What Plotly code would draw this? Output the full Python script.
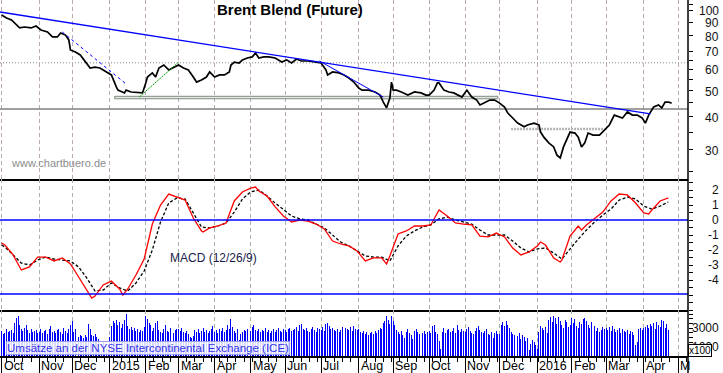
import math
import pandas as pd
import plotly.graph_objects as go

FONT = "Liberation Sans, Arial, sans-serif"

# ---------------- axis categories ----------------
month_starts = ["2014-10-01", "2014-11-03", "2014-12-01", "2015-01-01", "2015-02-02", "2015-03-02",
                "2015-04-01", "2015-05-01", "2015-06-01", "2015-07-01", "2015-08-03", "2015-09-01",
                "2015-10-01", "2015-11-02", "2015-12-01", "2016-01-01", "2016-02-01", "2016-03-01",
                "2016-04-01", "2016-05-02"]
month_labels = ["Oct", "Nov", "Dec", "2015", "Feb", "Mar", "Apr", "May", "Jun", "Jul", "Aug", "Sep",
                "Oct", "Nov", "Dec", "2016", "Feb", "Mar", "Apr", "M"]
x_range = ["2014-09-30", "2016-05-10"]

price_tick_labels = [30, 40, 50, 60, 70, 80, 90, 100]
price_tick_marks = [25, 30, 35, 40, 45, 50, 55, 60, 65, 70, 80, 90, 100, 105]
macd_tick_labels = [2, 1, 0, -1, -2, -3, -4]
vol_tick_labels = [3000, 1000]

# ---------------- price (Brent, USD) ----------------
price_dates = [
    "2014-10-01", "2014-10-06", "2014-10-09", "2014-10-14", "2014-10-16", "2014-10-21", "2014-10-27", "2014-10-30",
    "2014-11-04", "2014-11-10", "2014-11-13", "2014-11-18", "2014-11-20", "2014-11-25", "2014-11-27", "2014-11-28",
    "2014-12-03", "2014-12-08", "2014-12-11", "2014-12-16", "2014-12-19", "2014-12-24", "2014-12-30",
    "2015-01-02", "2015-01-07", "2015-01-08", "2015-01-14", "2015-01-15", "2015-01-20", "2015-01-26", "2015-01-29",
    "2015-02-02", "2015-02-03", "2015-02-06", "2015-02-10", "2015-02-12", "2015-02-17", "2015-02-20", "2015-02-25",
    "2015-03-02", "2015-03-05", "2015-03-10", "2015-03-13", "2015-03-17", "2015-03-20", "2015-03-25", "2015-03-27",
    "2015-04-01", "2015-04-06", "2015-04-09", "2015-04-14", "2015-04-15", "2015-04-17", "2015-04-22", "2015-04-24", "2015-04-29",
    "2015-05-04", "2015-05-06", "2015-05-08", "2015-05-13", "2015-05-18", "2015-05-22", "2015-05-28",
    "2015-06-02", "2015-06-05", "2015-06-10", "2015-06-15", "2015-06-19", "2015-06-26",
    "2015-07-01", "2015-07-06", "2015-07-07", "2015-07-10", "2015-07-16", "2015-07-21", "2015-07-24", "2015-07-29",
    "2015-08-03", "2015-08-05", "2015-08-11", "2015-08-17", "2015-08-20", "2015-08-24", "2015-08-26", "2015-08-28", "2015-08-31",
    "2015-09-01", "2015-09-03", "2015-09-08", "2015-09-14", "2015-09-18", "2015-09-24", "2015-09-29",
    "2015-10-01", "2015-10-06", "2015-10-08", "2015-10-09", "2015-10-14", "2015-10-19", "2015-10-22", "2015-10-29",
    "2015-11-03", "2015-11-06", "2015-11-11", "2015-11-13", "2015-11-17", "2015-11-23", "2015-11-26",
    "2015-12-01", "2015-12-04", "2015-12-08", "2015-12-11", "2015-12-16", "2015-12-22", "2015-12-24", "2015-12-30",
    "2016-01-04", "2016-01-05", "2016-01-07", "2016-01-12", "2016-01-15", "2016-01-19", "2016-01-21", "2016-01-25", "2016-01-27", "2016-01-29",
    "2016-02-03", "2016-02-05", "2016-02-09", "2016-02-11", "2016-02-15", "2016-02-18", "2016-02-24", "2016-02-29",
    "2016-03-03", "2016-03-08", "2016-03-11", "2016-03-15", "2016-03-18", "2016-03-23", "2016-03-28", "2016-03-31",
    "2016-04-04", "2016-04-06", "2016-04-11", "2016-04-14", "2016-04-18", "2016-04-20", "2016-04-22", "2016-04-26"]
price_vals = [
    95.8, 93.3, 91.8, 87.9, 85.7, 86.4, 85.7, 87.1,
    84.2, 82.8, 79.3, 79.3, 82.1, 80.6, 77.3, 70.9,
    69.7, 67.9, 63.9, 60.7, 61.2, 60.7, 58.7,
    57.2, 51.6, 50.2, 49.0, 50.2, 49.4, 49.0, 49.0,
    53.4, 56.2, 58.2, 56.2, 60.7, 62.3, 59.7, 61.2,
    62.3, 60.7, 59.7, 56.2, 53.8, 54.8, 56.2, 58.7,
    56.2, 57.2, 57.2, 58.7, 62.3, 63.9, 63.4, 65.1, 66.2,
    66.8, 69.1, 66.2, 66.8, 66.8, 66.2, 63.9,
    65.1, 63.4, 65.6, 64.5, 64.5, 63.9,
    63.4, 59.7, 57.2, 58.7, 58.2, 57.2, 55.7, 53.8,
    51.1, 50.2, 50.2, 49.4, 48.1, 45.3, 43.1, 46.9, 53.8,
    50.2, 50.2, 49.4, 48.1, 49.4, 49.0, 48.1,
    48.1, 50.2, 53.4, 53.4, 50.2, 49.4, 49.0, 47.3,
    50.2, 47.3, 46.1, 44.2, 44.9, 46.1, 46.1,
    44.9, 43.4, 41.2, 39.5, 37.8, 36.6, 37.2, 37.8,
    37.2, 35.0, 33.5, 31.9, 30.8, 28.7, 28.0, 30.8, 32.7, 35.0,
    34.7, 33.5, 30.8, 31.9, 34.7, 34.1, 34.1, 35.6,
    37.2, 40.5, 39.8, 39.5, 41.6, 40.5, 40.5, 39.5,
    37.8, 40.5, 43.4, 44.2, 43.1, 45.3, 45.3, 44.9]

# drawn chart lines on the price panel
trend_long_dates = ["2014-09-30", "2016-04-07"]
trend_long_vals = [98.3, 40.9]
trend_short1_dates = ["2014-11-21", "2015-01-15"]
trend_short1_vals = [82.8, 52.9]
trend_short2_dates = ["2015-06-30", "2015-08-24"]
trend_short2_vals = [64.5, 47.3]
green_dates = ["2015-01-27", "2015-03-02"]
green_vals = [47.3, 63.9]
box_dates = ["2015-01-06", "2015-11-30"]
box_vals = [46.6, 47.6]
support_dates = ["2015-12-10", "2016-02-29"]
support_val = 35.9
level_high = 63.5
level_low = 42.7

# ---------------- MACD (12/26/9) ----------------
macd_dates = [
    "2014-10-01", "2014-10-03", "2014-10-10", "2014-10-17", "2014-10-24", "2014-10-31",
    "2014-11-07", "2014-11-14", "2014-11-21", "2014-11-28",
    "2014-12-05", "2014-12-12", "2014-12-17", "2014-12-19", "2014-12-26",
    "2015-01-02", "2015-01-09", "2015-01-13", "2015-01-16", "2015-01-23", "2015-01-30",
    "2015-02-06", "2015-02-13", "2015-02-20", "2015-02-27",
    "2015-03-06", "2015-03-13", "2015-03-20", "2015-03-23", "2015-03-27",
    "2015-04-03", "2015-04-10", "2015-04-17", "2015-04-24",
    "2015-05-01", "2015-05-06", "2015-05-08", "2015-05-15", "2015-05-22", "2015-05-29",
    "2015-06-05", "2015-06-12", "2015-06-19", "2015-06-26",
    "2015-07-03", "2015-07-10", "2015-07-17", "2015-07-24", "2015-07-31",
    "2015-08-07", "2015-08-14", "2015-08-21", "2015-08-26", "2015-08-28",
    "2015-09-04", "2015-09-11", "2015-09-18", "2015-09-25",
    "2015-10-02", "2015-10-09", "2015-10-16", "2015-10-23", "2015-10-30",
    "2015-11-06", "2015-11-13", "2015-11-20", "2015-11-27",
    "2015-12-04", "2015-12-11", "2015-12-18", "2015-12-25",
    "2016-01-01", "2016-01-05", "2016-01-08", "2016-01-15", "2016-01-21", "2016-01-22", "2016-01-29",
    "2016-02-05", "2016-02-09", "2016-02-12", "2016-02-19", "2016-02-26",
    "2016-03-04", "2016-03-11", "2016-03-18", "2016-03-25",
    "2016-04-01", "2016-04-06", "2016-04-08", "2016-04-15", "2016-04-22"]
macd_vals = [
    -1.53, -1.67, -2.33, -3.33, -3.13, -2.47,
    -2.47, -2.73, -2.53, -2.93,
    -3.80, -4.73, -5.20, -5.07, -4.33,
    -4.07, -4.60, -5.00, -4.60, -3.67, -2.60,
    -0.27, 1.00, 1.73, 1.53,
    1.33, 0.13, -0.73, -0.80, -0.53,
    -0.40, -0.20, 1.27, 1.87,
    2.13, 2.20, 1.93, 1.60, 0.87, 0.27,
    -0.13, 0.00, -0.07, -0.27,
    -0.60, -1.40, -1.60, -1.73, -2.07,
    -2.73, -2.53, -2.53, -2.93, -2.40,
    -0.93, -0.73, -0.40, -0.40,
    -0.33, 0.67, 0.27, -0.20, -0.27,
    -0.33, -1.07, -1.13, -0.87,
    -1.13, -1.87, -2.33, -2.13,
    -1.73, -1.47, -1.67, -2.53, -2.80, -2.67, -1.07,
    -0.40, -0.67, -0.33, 0.07, 0.53,
    1.27, 1.73, 1.67, 1.13,
    0.47, 0.40, 0.67, 1.27, 1.47]

signal_dates = [
    "2014-10-01", "2014-10-03", "2014-10-10", "2014-10-17", "2014-10-24", "2014-10-31",
    "2014-11-07", "2014-11-14", "2014-11-21", "2014-11-28",
    "2014-12-05", "2014-12-12", "2014-12-19", "2014-12-26",
    "2015-01-02", "2015-01-09", "2015-01-16", "2015-01-23", "2015-01-30",
    "2015-02-06", "2015-02-13", "2015-02-20", "2015-02-27",
    "2015-03-06", "2015-03-13", "2015-03-20", "2015-03-27",
    "2015-04-03", "2015-04-10", "2015-04-17", "2015-04-24",
    "2015-05-01", "2015-05-08", "2015-05-15", "2015-05-22", "2015-05-29",
    "2015-06-05", "2015-06-12", "2015-06-19", "2015-06-26",
    "2015-07-03", "2015-07-10", "2015-07-17", "2015-07-24", "2015-07-31",
    "2015-08-07", "2015-08-14", "2015-08-21", "2015-08-28",
    "2015-09-04", "2015-09-11", "2015-09-18", "2015-09-25",
    "2015-10-02", "2015-10-09", "2015-10-16", "2015-10-23", "2015-10-30",
    "2015-11-06", "2015-11-13", "2015-11-20", "2015-11-27",
    "2015-12-04", "2015-12-11", "2015-12-18", "2015-12-25",
    "2016-01-01", "2016-01-08", "2016-01-15", "2016-01-22", "2016-01-29",
    "2016-02-05", "2016-02-12", "2016-02-19", "2016-02-26",
    "2016-03-04", "2016-03-11", "2016-03-18", "2016-03-25",
    "2016-04-01", "2016-04-08", "2016-04-15", "2016-04-22"]
signal_vals = [
    -1.67, -1.80, -2.33, -2.87, -3.00, -2.67,
    -2.47, -2.60, -2.67, -2.73,
    -3.13, -3.87, -4.73, -4.67,
    -4.20, -4.53, -4.73, -4.20, -3.40,
    -2.00, -0.13, 1.13, 1.47,
    1.40, 0.47, -0.47, -0.53,
    -0.40, -0.20, 0.53, 1.40,
    1.87, 2.00, 1.60, 1.13, 0.67,
    0.27, 0.07, 0.00, -0.27,
    -0.53, -1.00, -1.47, -1.73, -2.07,
    -2.40, -2.47, -2.47, -2.73,
    -1.73, -1.07, -0.73, -0.47,
    -0.33, 0.07, 0.20, 0.00, -0.13,
    -0.27, -0.67, -1.00, -1.00,
    -1.00, -1.40, -1.87, -2.13,
    -1.93, -1.87, -2.20, -2.60, -1.93,
    -1.27, -0.67, -0.13, 0.33,
    0.73, 1.33, 1.53, 1.40,
    0.93, 0.73, 0.93, 1.20]
macd_line_mid = 0.0
macd_line_low = -4.93

# ---------------- volume (x100 contracts), one value per trading day ----------------
vol_2014_10 = [2700, 2400, 2500, 2900, 2600, 2700, 2800, 2500, 3500, 4100, 4300, 3300, 2900, 2700, 3000, 3300, 2800, 2500, 2900, 2600, 2700, 2800, 2500]
vol_2014_11 = [2600, 2900, 2500, 2700, 2800, 2400, 2900, 3200, 2600, 2700, 2500, 2800, 2900, 2600, 2400, 3000, 2700, 2500, 2900, 3300]
vol_2014_12 = [3700, 2600, 2900, 2200, 2000, 2300, 2100, 1900, 2200, 2000, 3400, 2900, 2300, 2100, 2400, 2000, 1800, 700, 500, 1500, 600, 800, 500]
vol_2015_01 = [2000, 3200, 3700, 3500, 3900, 3300, 3600, 3000, 3400, 3900, 4500, 3200, 2900, 3100, 2800, 3000, 2700, 2900, 2600, 2800, 2700, 3100]
vol_2015_02 = [4300, 4000, 3500, 3300, 2700, 3000, 3500, 3700, 2800, 2600, 2500, 2900, 3300, 2700, 2600, 3000, 2700, 2500, 2800, 2900]
vol_2015_03 = [2900, 2700, 3000, 2600, 2500, 2700, 2400, 2000, 1900, 2100, 2800, 2600, 2900, 2500, 2700, 3000, 2600, 2800, 2500, 2700, 2900, 3200]
vol_2015_04 = [2600, 2800, 2500, 2900, 2700, 3000, 2600, 2800, 3300, 2900, 4000, 3100, 2700, 2500, 2900, 1700, 2400, 2600, 2800, 2700, 2900, 3100]
vol_2015_05 = [2700, 3100, 3300, 2800, 2700, 2900, 2600, 2800, 2700, 3000, 2600, 2800, 2500, 2700, 2900, 2600, 2800, 3000, 2700, 2600, 2900]
vol_2015_06 = [2800, 2600, 2900, 3000, 2700, 2800, 2900, 3100, 2700, 3300, 3400, 2900, 2800, 3000, 2700, 2600, 2900, 3100, 2800, 2600, 3000, 2900]
vol_2015_07 = [2800, 3100, 2700, 3400, 3500, 3200, 2900, 3000, 2800, 2700, 2900, 2600, 2800, 3100, 2700, 3000, 2900, 2800, 3100, 2700, 3200, 2900, 2800]
vol_2015_08 = [2900, 2600, 2500, 2700, 2400, 2600, 2300, 2500, 2600, 2400, 2700, 2500, 2800, 3000, 2900, 3500, 3700, 4300, 3900, 3400, 4300]
vol_2015_09 = [3800, 3300, 2800, 2600, 2400, 2700, 2300, 1900, 2600, 2900, 2500, 2200, 1800, 2700, 2900, 2600, 2400, 2300, 2500, 2700, 2400, 2600]
vol_2015_10 = [2700, 2500, 3200, 3300, 2600, 2400, 1600, 700, 2600, 3000, 2500, 2800, 2900, 2600, 2700, 3000, 2500, 3300, 2800, 2600, 2900, 2700]
vol_2015_11 = [2600, 2900, 3100, 2700, 2500, 2400, 2700, 3000, 3200, 2800, 2600, 2500, 2700, 2900, 2400, 2200, 2600, 1900, 2500, 2700, 2400]
vol_2015_12 = [2400, 3300, 3600, 3200, 3700, 3300, 3000, 2600, 2400, 2200, 2800, 2100, 2500, 1800, 2300, 2000, 1600, 1900, 600, 1300, 1700, 1500, 1200]
vol_2016_01 = [800, 2600, 3200, 3000, 2800, 3100, 2500, 3900, 4200, 3600, 4300, 4100, 3400, 4200, 3800, 3300, 3000, 3900, 3600, 3100, 3300]
vol_2016_02 = [4100, 3500, 4000, 3200, 3000, 3600, 3400, 4000, 4100, 3700, 3300, 3000, 3600, 2900, 3200, 2700, 3000, 2600, 2800, 3100, 2900]
vol_2016_03 = [3000, 2800, 3100, 2700, 3200, 2900, 2600, 2800, 3000, 2500, 2900, 2700, 2600, 2800, 2400, 2700, 2600, 2300, 1200, 1500, 2900, 3000, 2800]
vol_2016_04 = [3000, 3100, 3300, 3000, 3400, 3200, 3500, 2900, 3600, 3300, 3100, 3900, 3700, 3000, 3400, 2800]

vol_months = [
    ("2014-10-01", vol_2014_10), ("2014-11-01", vol_2014_11), ("2014-12-01", vol_2014_12),
    ("2015-01-01", vol_2015_01), ("2015-02-01", vol_2015_02), ("2015-03-01", vol_2015_03),
    ("2015-04-01", vol_2015_04), ("2015-05-01", vol_2015_05), ("2015-06-01", vol_2015_06),
    ("2015-07-01", vol_2015_07), ("2015-08-01", vol_2015_08), ("2015-09-01", vol_2015_09),
    ("2015-10-01", vol_2015_10), ("2015-11-01", vol_2015_11), ("2015-12-01", vol_2015_12),
    ("2016-01-01", vol_2016_01), ("2016-02-01", vol_2016_02), ("2016-03-01", vol_2016_03),
    ("2016-04-01", vol_2016_04)]
vol_dates, vol_vals = [], []
for start, vals in vol_months:
    days = pd.bdate_range(start=start, periods=len(vals))
    vol_dates += list(days.strftime("%Y-%m-%d"))
    vol_vals += vals

# ---------------- figure ----------------
W, H = 723, 373
ML, MR, MT, MB = 0, 35, 0, 17
PH = H - MT - MB  # plot height in px
def pfy(py):      # pixel row -> paper y
    return 1 - (py - MT) / PH
def pfx(px):
    return (px - ML) / (W - ML - MR)

dom_price = [pfy(179), 1]
dom_macd = [pfy(310), pfy(179)]
dom_vol = [0, pfy(310)]

fig = go.Figure()

full_x = [x_range[0], x_range[1]]
# price panel: reference levels
fig.add_trace(go.Scatter(x=full_x, y=[level_high, level_high], mode="lines",
                         line=dict(color="#8a8a8a", width=1, dash="1px,2px"), xaxis="x", yaxis="y"))
fig.add_trace(go.Scatter(x=full_x, y=[level_low, level_low], mode="lines",
                         line=dict(color="#808080", width=1.5), xaxis="x", yaxis="y"))
fig.add_trace(go.Scatter(x=[box_dates[0], box_dates[1], box_dates[1], box_dates[0], box_dates[0]],
                         y=[box_vals[1], box_vals[1], box_vals[0], box_vals[0], box_vals[1]],
                         mode="lines", fill="toself", fillcolor="rgba(215,215,215,0.6)",
                         line=dict(color="#7f8a7f", width=1), xaxis="x", yaxis="y"))
fig.add_trace(go.Scatter(x=support_dates, y=[support_val, support_val], mode="lines",
                         line=dict(color="#b5b5b5", width=2.5, dash="2px,1px"), xaxis="x", yaxis="y"))
fig.add_trace(go.Scatter(x=price_dates, y=price_vals, mode="lines",
                         line=dict(color="black", width=1.7), xaxis="x", yaxis="y"))
fig.add_trace(go.Scatter(x=trend_long_dates, y=trend_long_vals, mode="lines",
                         line=dict(color="#0000ff", width=1.3), xaxis="x", yaxis="y"))
fig.add_trace(go.Scatter(x=trend_short1_dates, y=trend_short1_vals, mode="lines",
                         line=dict(color="#0000ff", width=1, dash="3px,3px"), xaxis="x", yaxis="y"))
fig.add_trace(go.Scatter(x=trend_short2_dates, y=trend_short2_vals, mode="lines",
                         line=dict(color="#0000ff", width=1), xaxis="x", yaxis="y"))
fig.add_trace(go.Scatter(x=green_dates, y=green_vals, mode="lines",
                         line=dict(color="#00a000", width=1, dash="2px,1px"), xaxis="x", yaxis="y"))

# MACD panel
fig.add_trace(go.Scatter(x=signal_dates, y=signal_vals, mode="lines",
                         line=dict(color="black", width=1.3, dash="3px,2px"), xaxis="x2", yaxis="y2"))
fig.add_trace(go.Scatter(x=macd_dates, y=macd_vals, mode="lines",
                         line=dict(color="#ff0000", width=1.3), xaxis="x2", yaxis="y2"))

# volume panel
fig.add_trace(go.Bar(x=vol_dates, y=vol_vals, width=0.6 * 86400000,
                     marker=dict(color="#0000ff", line=dict(width=0)),
                     xaxis="x3", yaxis="y3"))

rb = [dict(bounds=["sat", "mon"])]
def xax(anchor, grid_color, showline):
    return dict(type="date", range=x_range, rangebreaks=rb, anchor=anchor, domain=[0, 1],
                tickmode="array", tickvals=month_starts, showticklabels=False,
                showgrid=True, gridcolor=grid_color, griddash="4px,3px", gridwidth=1,
                ticks="", showline=showline, linecolor="black", linewidth=1.5,
                zeroline=False, fixedrange=True)

xa3 = xax("y3", "#a9b3a9", True)
xa3.update(ticks="outside", ticklen=17, tickcolor="black", tickwidth=1,
           minor=dict(ticks="outside", ticklen=4, tickcolor="black", tickwidth=1,
                      dtick=7 * 86400000, tick0="2014-10-06", showgrid=False))

def yax(anchor_dom, rng, ticks, type_="linear"):
    return dict(type=type_, domain=anchor_dom, range=rng, side="right", showgrid=False,
                zeroline=False, showticklabels=False, ticks="outside", ticklen=4,
                tickcolor="black", tickwidth=1, tickmode="array", tickvals=ticks,
                showline=False, fixedrange=True)

price_top = 2 + 10 / 267.7
price_bot = 2 - 169 / 267.7

fig.update_layout(
    width=W, height=H, margin=dict(l=ML, r=MR, t=MT, b=MB, autoexpand=False),
    paper_bgcolor="white", plot_bgcolor="white", showlegend=False, hovermode=False,
    bargap=0.4,
    xaxis=xax("y", "#bba9bb", True),
    xaxis2=xax("y2", "#a9b3a9", True),
    xaxis3=xa3,
    yaxis=yax(dom_price, [price_bot, price_top], price_tick_marks, "log") | dict(anchor="x"),
    yaxis2=yax(dom_macd, [-6.0, 2.733], [v / 2 for v in range(-12, 6)]) | dict(anchor="x2"),
    yaxis3=yax(dom_vol, [0, 4930], [500, 1000, 1500, 2000, 2500, 3000, 3500, 4000, 4500]) | dict(anchor="x3"),
)

shapes = [
    dict(type="line", xref="x2 domain", x0=0, x1=1, yref="y2", y0=macd_line_mid, y1=macd_line_mid,
         line=dict(color="#0000ff", width=1.5)),
    dict(type="line", xref="x2 domain", x0=0, x1=1, yref="y2", y0=macd_line_low, y1=macd_line_low,
         line=dict(color="#0000ff", width=1.5)),
    dict(type="line", xref="paper", x0=1, x1=1, yref="paper", y0=pfy(H), y1=1,
         line=dict(color="black", width=1.5)),
]
fig.update_layout(shapes=shapes)

ann = []
txt = dict(family=FONT, size=12, color="#111111")
for v in price_tick_labels:
    ann.append(dict(xref="paper", x=pfx(721), xanchor="right", yref="y", y=math.log10(v),
                    yanchor="middle", yshift=-1, text=str(v), showarrow=False, font=txt))
for v in macd_tick_labels:
    ann.append(dict(xref="paper", x=pfx(721), xanchor="right", yref="y2", y=v,
                    yanchor="middle", text=str(v), showarrow=False, font=txt))
for v in vol_tick_labels:
    ann.append(dict(xref="paper", x=pfx(721), xanchor="right", yref="y3", y=v,
                    yanchor="middle", text=str(v), showarrow=False, font=txt))
ann.append(dict(xref="paper", x=pfx(700), xanchor="center", yref="paper", y=pfy(350),
                yanchor="middle", text="x100", showarrow=False, bgcolor="white",
                bordercolor="black", borderwidth=1, borderpad=0,
                font=dict(family=FONT, size=10, color="black")))
for d, lab in zip(month_starts, month_labels):
    ann.append(dict(xref="x3", x=d, xanchor="left", yref="paper", y=0, yanchor="middle",
                    yshift=-10, text=lab, showarrow=False, font=dict(family=FONT, size=12.5, color="black")))
ann.append(dict(xref="paper", x=pfx(290), xanchor="center", yref="paper", y=pfy(9),
                yanchor="middle", text="<b>Brent Blend (Future)</b>", showarrow=False,
                font=dict(family=FONT, size=15, color="black")))
ann.append(dict(xref="paper", x=pfx(9), xanchor="left", yref="paper", y=pfy(163),
                yanchor="middle", text="www.chartbuero.de", showarrow=False,
                font=dict(family=FONT, size=11, color="#8c8c8c")))
ann.append(dict(xref="paper", x=pfx(213), xanchor="center", yref="paper", y=pfy(258),
                yanchor="middle", text="MACD (12/26/9)", showarrow=False,
                font=dict(family=FONT, size=12, color="#1a1a4a")))
ann.append(dict(xref="paper", x=pfx(6), xanchor="left", yref="paper", y=pfy(348),
                yanchor="middle", text="Umsätze an der NYSE Intercontinental Exchange (ICE)",
                showarrow=False, bgcolor="rgba(255,255,255,0.85)", bordercolor="#9c9cf0",
                borderwidth=1, borderpad=0, font=dict(family=FONT, size=11.5, color="#3535e8")))
fig.update_layout(annotations=ann)

fig.write_html(
    "out.html",
    config={"displayModeBar": False, "staticPlot": True},
    post_script=("document.body.style.margin='0';document.body.style.overflow='hidden';"
                 "document.querySelectorAll('.bars path').forEach(function(p){"
                 "p.style.shapeRendering='crispEdges';});"),
)
